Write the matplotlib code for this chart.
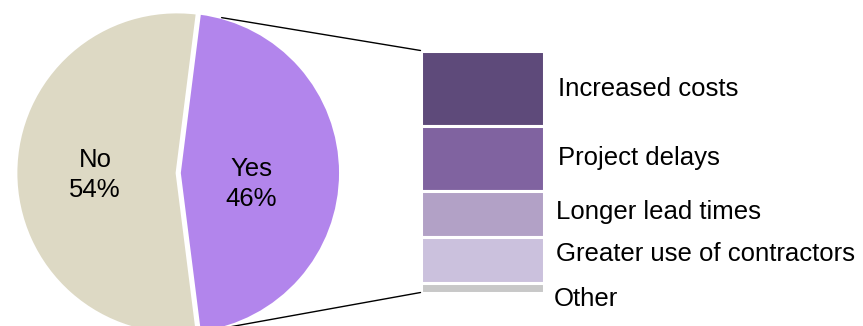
import numpy as np
import matplotlib
matplotlib.use("Agg")
import matplotlib.pyplot as plt
from matplotlib.patches import ConnectionPatch

plt.rcParams["font.family"] = ["Liberation Sans", "DejaVu Sans"]

# Share of respondents affected
pie_labels = ["Yes", "No"]
pie_values = [46, 54]

# Breakdown of impacts among those who answered "Yes"
impact_labels = ["Increased costs", "Project delays", "Longer lead times",
                 "Greater use of contractors", "Other"]
impact_values = [31, 27, 19, 19, 4]

pie_colors = ["#B285EC", "#DDD9C4"]
impact_colors = ["#5E4A7A", "#8063A0", "#B2A1C6", "#CBC1DD", "#C8C8C8"]

W, H = 863, 326
fig = plt.figure(figsize=(W / 100, H / 100), dpi=100)

# --- pie axes (pixel layout) ---
cx, cy, r_px = 177, 173, 161
lim = 1.2
half = r_px * lim
ax_pie = fig.add_axes([(cx - half) / W, (H - cy - half) / H, 2 * half / W, 2 * half / H])
yes_angle = 360 * pie_values[0] / sum(pie_values)
wedges, _ = ax_pie.pie(pie_values, colors=pie_colors, startangle=-yes_angle / 2,
                       explode=[0.015, 0], counterclock=True,
                       wedgeprops=dict(edgecolor="white", linewidth=2.0))
ax_pie.set_xlim(-lim, lim)
ax_pie.set_ylim(-lim, lim)
ax_pie.set_aspect("equal")
ax_pie.axis("off")

for w, lab, val, rad, dy in zip(wedges, pie_labels, pie_values, [0.46, 0.51], [-0.067, -0.012]):
    mid = np.deg2rad((w.theta1 + w.theta2) / 2)
    ax_pie.text(rad * np.cos(mid), rad * np.sin(mid) + dy, f"{lab}\n{val}%",
                ha="center", va="center", fontsize=18.5, color="black", linespacing=1.33)

# --- stacked bar axes (pixel layout) ---
bx0, bx1, by0, by1 = 420.5, 543.5, 50.5, 292.5
ax_bar = fig.add_axes([bx0 / W, (H - by1) / H, (bx1 - bx0) / W, (by1 - by0) / H])
total = sum(impact_values)
bottom = total
centers = []
for lab, val, col in zip(impact_labels, impact_values, impact_colors):
    bottom -= val
    ax_bar.bar(0.5, val, width=1.0, bottom=bottom, color=col,
               edgecolor="white", linewidth=2.2)
    centers.append(bottom + val / 2)
ax_bar.set_xlim(0, 1)
ax_bar.set_ylim(0, total)
ax_bar.axis("off")

# label placement: nudges in pixels (negative = upwards), baseline at cap centre + 9px
label_nudge_px = [-1.5, -2.0, -3.5, -8.0, 9.5]
label_dx_px = [14, 15, 12, 12, 10]
for lab, c, nudge, dx in zip(impact_labels, centers, label_nudge_px, label_dx_px):
    ax_bar.annotate(lab, xy=(1, c), xytext=(dx * 0.72, (-nudge - 9) * 0.72),
                    textcoords="offset points", ha="left", va="baseline",
                    fontsize=18.5, color="black", annotation_clip=False)

# --- connector lines from the "Yes" wedge to the bar ---
yes = wedges[0]
inset = 8.0
xc, yc = yes.center
for ang, ybar in [(yes.theta2 - inset, total), (yes.theta1 + inset, 0)]:
    a = np.deg2rad(ang)
    con = ConnectionPatch(xyA=(xc + 1.0 * np.cos(a), yc + 1.0 * np.sin(a)), coordsA=ax_pie.transData,
                          xyB=(0, ybar), coordsB=ax_bar.transData,
                          color="black", linewidth=1.0)
    fig.add_artist(con)

fig.savefig("out.png", dpi=100)
